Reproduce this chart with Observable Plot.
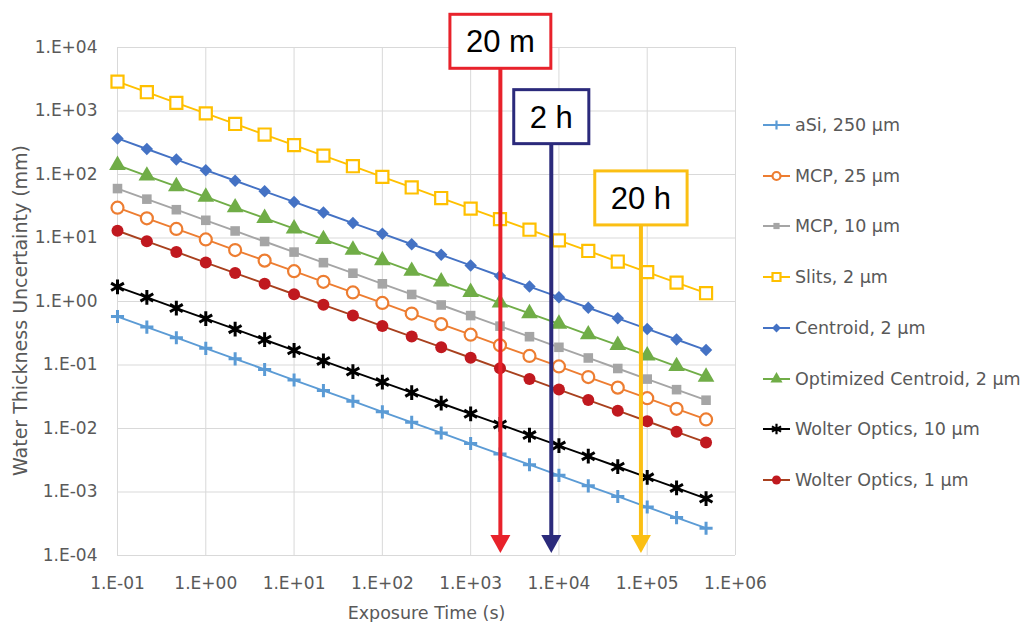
<!DOCTYPE html>
<html><head><meta charset="utf-8">
<script src="https://cdn.jsdelivr.net/npm/d3@7"></script>
<script src="https://cdn.jsdelivr.net/npm/@observablehq/plot@0.6"></script>
<style>
body{margin:0;background:#fff;}
#wrap{position:relative;width:1024px;height:622px;overflow:hidden;font-family:"DejaVu Sans",sans-serif;}
.li{position:absolute;left:760px;height:22px;display:flex;align-items:center;}
.li span{font-size:17.5px;color:#595959;margin-left:3px;white-space:nowrap;font-family:"DejaVu Sans",sans-serif;}
</style></head><body><div id="wrap"></div>
<script>
// ---- data ----
const times = [0.1, 0.215, 0.464, 1, 2.15, 4.64, 10, 21.5, 46.4, 100, 215, 464, 1000, 2150, 4640, 10000, 21500, 46400, 100000, 215000, 464000];
const seriesNames = ["aSi, 250 µm", "MCP, 25 µm", "MCP, 10 µm", "Slits, 2 µm", "Centroid, 2 µm", "Optimized Centroid, 2 µm", "Wolter Optics, 10 µm", "Wolter Optics, 1 µm"];
const aSi = [0.58, 0.395, 0.269, 0.183, 0.125, 0.0851, 0.058, 0.0395, 0.0269, 0.0183, 0.0125, 0.00851, 0.0058, 0.00395, 0.00269, 0.00183, 0.00125, 0.000851, 0.00058, 0.000395, 0.000269];
const mcp25 = [30, 20.4, 13.9, 9.49, 6.46, 4.40, 3.0, 2.04, 1.39, 0.949, 0.646, 0.440, 0.30, 0.204, 0.139, 0.0949, 0.0646, 0.0440, 0.030, 0.0204, 0.0139];
const mcp10 = [60, 40.9, 27.9, 19.0, 12.9, 8.81, 6.0, 4.09, 2.79, 1.90, 1.29, 0.881, 0.60, 0.409, 0.279, 0.190, 0.129, 0.0881, 0.060, 0.0409, 0.0279];
const slits = [2900, 1976, 1346, 917, 625, 426, 290, 198, 135, 91.7, 62.5, 42.6, 29.0, 19.8, 13.5, 9.17, 6.25, 4.26, 2.90, 1.98, 1.35];
const centroid = [370, 252, 172, 117, 79.7, 54.3, 37.0, 25.2, 17.2, 11.7, 7.97, 5.43, 3.70, 2.52, 1.72, 1.17, 0.797, 0.543, 0.370, 0.252, 0.172];
const optCentroid = [140, 95.4, 65.0, 44.3, 30.2, 20.6, 14.0, 9.54, 6.50, 4.43, 3.02, 2.06, 1.40, 0.954, 0.650, 0.443, 0.302, 0.206, 0.140, 0.0954, 0.0650];
const wolter10 = [1.7, 1.16, 0.789, 0.538, 0.366, 0.250, 0.17, 0.116, 0.0789, 0.0538, 0.0366, 0.0250, 0.017, 0.0116, 0.00789, 0.00538, 0.00366, 0.00250, 0.0017, 0.00116, 0.000789];
const wolter1 = [13, 8.86, 6.03, 4.11, 2.80, 1.91, 1.30, 0.886, 0.603, 0.411, 0.280, 0.191, 0.130, 0.0886, 0.0603, 0.0411, 0.0280, 0.0191, 0.013, 0.00886, 0.00603];
const xTicks = [0.1, 1, 10, 100, 1e3, 1e4, 1e5, 1e6];
const yTicks = [1e-4, 1e-3, 1e-2, 1e-1, 1, 10, 100, 1e3, 1e4];
const xTitle = "Exposure Time (s)";
const yTitle = "Water Thickness Uncertainty (mm)";
const arrowLabels = ["20 m", "2 h", "20 h"];
const arrowTimes = [2200, 8300, 86000];
const arrowBoxY = [12300, 800, 42];

// ---- styles ----
const seriesValues = [aSi, mcp25, mcp10, slits, centroid, optCentroid, wolter10, wolter1];
const styles = [
  {line: "#5B9BD5", symbol: "plus", r: 4.3, fill: "none", stroke: "#5B9BD5", sw: 3, lr: 3},
  {line: "#ED7D31", symbol: "circle", r: 6, fill: "white", stroke: "#ED7D31", sw: 2.2, lr: 4},
  {line: "#A5A5A5", symbol: "square", r: 5.4, fill: "#A5A5A5", stroke: "none", sw: 0, lr: 3.5},
  {line: "#FFC000", symbol: "square", r: 6.8, fill: "white", stroke: "#FFC000", sw: 2.2, lr: 4.5},
  {line: "#4472C4", symbol: "diamond2", r: 5.6, fill: "#4472C4", stroke: "none", sw: 0, lr: 4},
  {line: "#70AD47", symbol: "triangle", r: 6.2, fill: "#70AD47", stroke: "none", sw: 0, lr: 4.5},
  {line: "#000000", symbol: "asterisk", r: 7, fill: "none", stroke: "#000000", sw: 3, lr: 5},
  {line: "#A8401E", symbol: "circle", r: 6, fill: "#C0191F", stroke: "none", sw: 0, lr: 4.5}
];
const arrowColors = ["#E8222B", "#2B2A7B", "#FBBF13"];

const fmt = d => { const e = Math.round(Math.log10(d)); return "1.E" + (e < 0 ? "-" : "+") + String(Math.abs(e)).padStart(2, "0"); };

const marks = [
  Plot.gridX(xTicks, {stroke: "#D9D9D9", strokeOpacity: 1, strokeWidth: 1}),
  Plot.gridY(yTicks, {stroke: "#D9D9D9", strokeOpacity: 1, strokeWidth: 1}),
  Plot.axisX(xTicks, {tickSize: 0, tickPadding: 21, tickFormat: fmt, fontSize: 17, color: "#595959", label: null}),
  Plot.axisY(yTicks, {tickSize: 0, tickPadding: 20, tickFormat: fmt, fontSize: 17, color: "#595959", label: null}),
  Plot.text([xTitle], {frameAnchor: "bottom", dy: 58, lineAnchor: "middle", textAnchor: "middle", fontSize: 17.5, fill: "#595959"}),
  Plot.text([yTitle], {frameAnchor: "left", dx: -97, dy: 9, rotate: -90, lineAnchor: "middle", textAnchor: "middle", fontSize: 19, fill: "#595959"})
];
seriesNames.forEach((name, s) => {
  const rows = times.map((t, i) => ({t, v: seriesValues[s][i]}));
  const st = styles[s];
  marks.push(Plot.line(rows, {x: "t", y: "v", stroke: st.line, strokeWidth: 1.9}));
  marks.push(Plot.dot(rows, {x: "t", y: "v", symbol: st.symbol, r: st.r, fill: st.fill, stroke: st.stroke, strokeWidth: st.sw}));
});

// arrow annotations
const ctx = document.createElement("canvas").getContext("2d");
ctx.font = "31px 'Liberation Sans', Arial, sans-serif";
marks.push((index, scales, values, dimensions) => {
  const g = d3.create("svg:g");
  const bottom = dimensions.height - dimensions.marginBottom - 2;
  arrowLabels.forEach((lab, i) => {
    const cx = scales.x(arrowTimes[i]);
    const cy = scales.y(arrowBoxY[i]);
    const w = ctx.measureText(lab).width + 32;
    const h = 54;
    const col = arrowColors[i];
    g.append("line").attr("x1", cx).attr("x2", cx).attr("y1", cy + h / 2).attr("y2", bottom - 16)
      .attr("stroke", col).attr("stroke-width", 4);
    g.append("path").attr("d", `M${cx - 10},${bottom - 18}L${cx + 10},${bottom - 18}L${cx},${bottom}Z`).attr("fill", col);
    g.append("rect").attr("x", cx - w / 2).attr("y", cy - h / 2).attr("width", w).attr("height", h)
      .attr("fill", "white").attr("stroke", col).attr("stroke-width", 3);
    g.append("text").attr("x", cx).attr("y", cy).attr("text-anchor", "middle").attr("dy", "0.36em")
      .attr("font-family", "'Liberation Sans', Arial, sans-serif").attr("font-size", 31).attr("fill", "black").text(lab);
  });
  return g.node();
});

const chart = Plot.plot({
  width: 1024, height: 622,
  marginLeft: 117, marginRight: 289, marginTop: 47, marginBottom: 67,
  x: {type: "log", domain: [0.1, 1e6]},
  y: {type: "log", domain: [1e-4, 1e4]},
  style: {fontFamily: "DejaVu Sans, sans-serif", background: "white"},
  marks
});
const wrap = document.getElementById("wrap");
wrap.appendChild(chart);

// legend
const symMap = {plus: d3.symbolPlus, circle: d3.symbolCircle, square: d3.symbolSquare, diamond2: d3.symbolDiamond2, triangle: d3.symbolTriangle, asterisk: d3.symbolAsterisk};
seriesNames.forEach((name, s) => {
  const st = styles[s];
  const item = document.createElement("div");
  item.className = "li";
  item.style.top = (125 + s * 50.7 - 11) + "px";
  const svg = d3.create("svg").attr("width", 32).attr("height", 22);
  svg.append("line").attr("x1", 3).attr("x2", 30).attr("y1", 11).attr("y2", 11).attr("stroke", st.line).attr("stroke-width", 2);
  svg.append("path").attr("transform", "translate(16.5,11)")
    .attr("d", d3.symbol(symMap[st.symbol], Math.PI * st.lr * st.lr)())
    .attr("fill", st.fill).attr("stroke", st.stroke).attr("stroke-width", st.sw ? Math.min(st.sw, 2.2) : 0);
  item.appendChild(svg.node());
  const span = document.createElement("span");
  span.textContent = name;
  item.appendChild(span);
  wrap.appendChild(item);
});
</script></body></html>
